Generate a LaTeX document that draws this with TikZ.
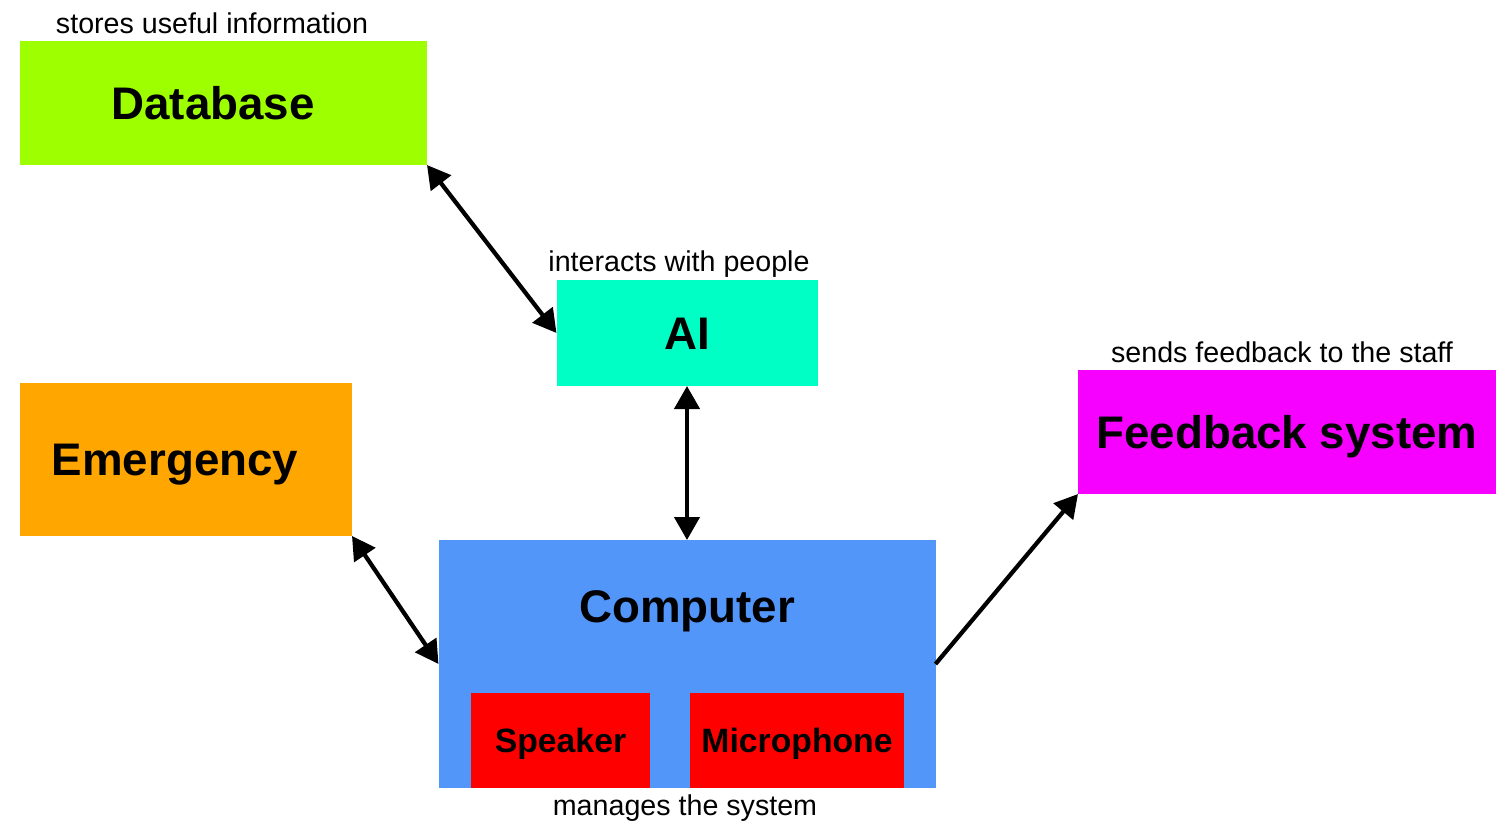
\documentclass[tikz,border=0pt]{standalone}
\usepackage{fontspec}
\setmainfont{Liberation Sans}
\usetikzlibrary{arrows.meta}
\definecolor{dbgreen}{RGB}{158,255,0}
\definecolor{aicyan}{RGB}{0,255,196}
\definecolor{emorange}{RGB}{255,166,0}
\definecolor{compblue}{RGB}{82,150,250}
\definecolor{partred}{RGB}{255,0,0}
\definecolor{fbpink}{RGB}{246,0,255}

\begin{document}
\begin{tikzpicture}[x=0.2mm,y=-0.2mm,
    >={Triangle[length=4.6mm,width=5mm]},
    box/.style={rectangle,inner sep=0pt,outer sep=0pt,text height=18.6pt,text depth=0pt,font=\fontsize{26}{30}\selectfont\bfseries},
    part/.style={box,fill=partred,minimum height=95*0.2mm,text height=13.7pt,font=\fontsize{19.2}{23}\selectfont\bfseries},
    note/.style={anchor=base,inner sep=0pt,font=\fontsize{16.3}{19}\selectfont},
    link/.style={line width=0.85mm}]
    \useasboundingbox (0,0) rectangle (1507,838);
    \node[box,fill=dbgreen,minimum width=407*0.2mm,minimum height=124*0.2mm] (db) at (223.5,103) {};
    \node[box] (dbtitle) at (213,103) {Database};
    \node[note] at (212,33) {stores useful information};
    \node[box,fill=aicyan,minimum width=261*0.2mm,minimum height=106*0.2mm] (ai) at (687,333) {AI};
    \node[note] at (679,271) {interacts with people};
    \node[box,fill=emorange,minimum width=332*0.2mm,minimum height=153*0.2mm] (em) at (186,459.5) {};
    \node[box] (emtitle) at (175,459.5) {Emergency};
    \node[box,fill=fbpink,minimum width=418*0.2mm,minimum height=124*0.2mm] (fb) at (1287,432) {Feedback system};
    \node[note] at (1282,362) {sends feedback to the staff};
    \node[box,fill=compblue,minimum width=497*0.2mm,minimum height=248*0.2mm] (comp) at (687,664) {};
    \node[box] (comptitle) at (687,606) {Computer};
    \node[part,minimum width=179*0.2mm] (spk) at (560.5,740.5) {Speaker};
    \node[part,minimum width=214*0.2mm] (mic) at (797,740.5) {Microphone};
    \node[note] at (685,815) {manages the system};
    % links
    \draw[<->,link] (db.south east) -- (ai.west);
    \draw[<->,link] (ai.south) -- (comp.north);
    \draw[<->,link] (em.south east) -- (comp.west);
    \draw[->,link] (comp.east) -- (fb.south west);
\end{tikzpicture}
\end{document}
